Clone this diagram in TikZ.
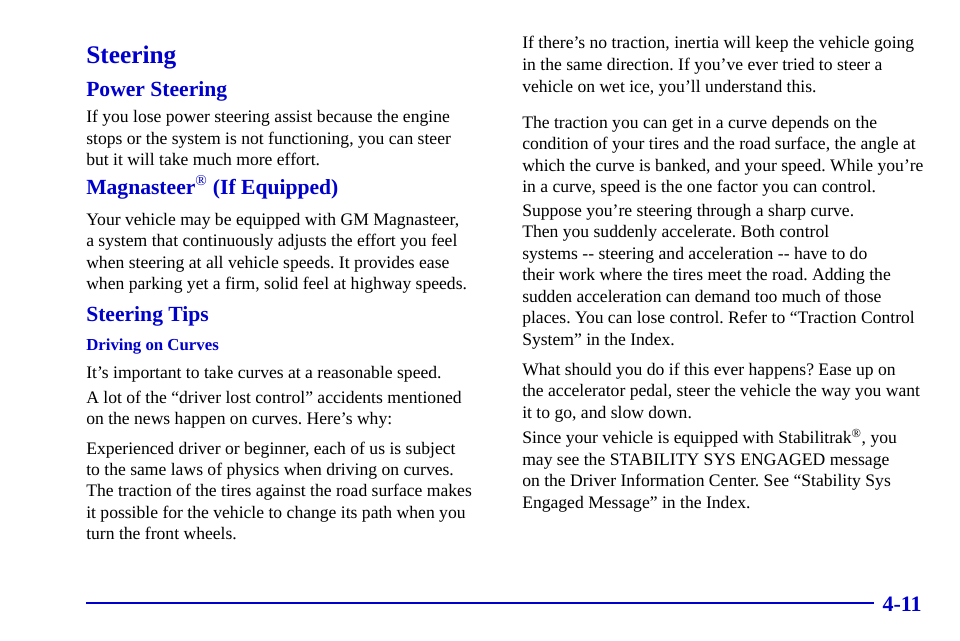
\documentclass[tikz,border=0pt]{standalone}
\usepackage{fontspec}
\setmainfont{Liberation Serif}
\definecolor{hblue}{RGB}{0,0,204}
\begin{document}
\frenchspacing
\begin{tikzpicture}[x=0.75pt,y=-0.75pt,
  body/.style={anchor=base west,inner sep=0pt,font=\fontsize{13.2pt}{15pt}\selectfont},
  h1/.style={anchor=base west,inner sep=0pt,text=hblue,font=\fontsize{19pt}{22pt}\selectfont\bfseries},
  h2/.style={anchor=base west,inner sep=0pt,text=hblue,font=\fontsize{16.2pt}{19pt}\selectfont\bfseries},
  h3/.style={anchor=base west,inner sep=0pt,text=hblue,font=\fontsize{12.6pt}{15pt}\selectfont\bfseries}]
\useasboundingbox (0,0) rectangle (960,640);
\node[h1] (t1) at (86,63) {Steering};
\node[h2] (t2) at (86,96) {Power Steering};
\node[body] (a1) at (86,122) {If you lose power steering assist because the engine};
\node[body] (a2) at (86,144) {stops or the system is not functioning, you can steer};
\node[body] (a3) at (86,165) {but it will take much more effort.};
\node[h2] (t3) at (86,194) {Magnasteer\textsuperscript{\normalfont\textregistered}\ (If Equipped)};
\node[body] (b1) at (86,225) {Your vehicle may be equipped with GM Magnasteer,};
\node[body] (b2) at (86,246) {a system that continuously adjusts the effort you feel};
\node[body] (b3) at (86,268) {when steering at all vehicle speeds. It provides ease};
\node[body] (b4) at (86,289) {when parking yet a firm, solid feel at highway speeds.};
\node[h2] (t4) at (86,321) {Steering Tips};
\node[h3] (t5) at (86,350) {Driving on Curves};
\node[body] (c1) at (86,378) {It’s important to take curves at a reasonable speed.};
\node[body] (d1) at (86,403) {A lot of the “driver lost control” accidents mentioned};
\node[body] (d2) at (86,424) {on the news happen on curves. Here’s why:};
\node[body] (e1) at (86,454) {Experienced driver or beginner, each of us is subject};
\node[body] (e2) at (86,475) {to the same laws of physics when driving on curves.};
\node[body] (e3) at (86,496) {The traction of the tires against the road surface makes};
\node[body] (e4) at (86,518) {it possible for the vehicle to change its path when you};
\node[body] (e5) at (86,539) {turn the front wheels.};
\node[body] (f1) at (522,48) {If there’s no traction, inertia will keep the vehicle going};
\node[body] (f2) at (522,70) {in the same direction. If you’ve ever tried to steer a};
\node[body] (f3) at (522,92) {vehicle on wet ice, you’ll understand this.};
\node[body] (g1) at (522,128) {The traction you can get in a curve depends on the};
\node[body] (g2) at (522,149) {condition of your tires and the road surface, the angle at};
\node[body] (g3) at (522,171) {which the curve is banked, and your speed. While you’re};
\node[body] (g4) at (522,192) {in a curve, speed is the one factor you can control.};
\node[body] (h1l) at (522,216) {Suppose you’re steering through a sharp curve.};
\node[body] (h2l) at (522,237) {Then you suddenly accelerate. Both control};
\node[body] (h3l) at (522,259) {systems -{}- steering and acceleration -{}- have to do};
\node[body] (h4l) at (522,280) {their work where the tires meet the road. Adding the};
\node[body] (h5l) at (522,302) {sudden acceleration can demand too much of those};
\node[body] (h6l) at (522,323) {places. You can lose control. Refer to “Traction Control};
\node[body] (h7l) at (522,345) {System” in the Index.};
\node[body] (i1) at (522,375) {What should you do if this ever happens? Ease up on};
\node[body] (i2) at (522,396) {the accelerator pedal, steer the vehicle the way you want};
\node[body] (i3) at (522,418) {it to go, and slow down.};
\node[body] (j1) at (522,443) {Since your vehicle is equipped with Stabilitrak\textsuperscript{\textregistered}, you};
\node[body] (j2) at (522,465) {may see the STABILITY SYS ENGAGED message};
\node[body] (j3) at (522,486) {on the Driver Information Center. See “Stability Sys};
\node[body] (j4) at (522,508) {Engaged Message” in the Index.};
\coordinate (l1) at (86,603);
\coordinate (l2) at (874,603);
\draw[hblue,line width=2.2pt] (l1) -- (l2);
\node[h1,anchor=base east,font=\fontsize{16.5pt}{19pt}\selectfont\bfseries] (pg) at (922,611) {4-11};
\end{tikzpicture}
\end{document}
